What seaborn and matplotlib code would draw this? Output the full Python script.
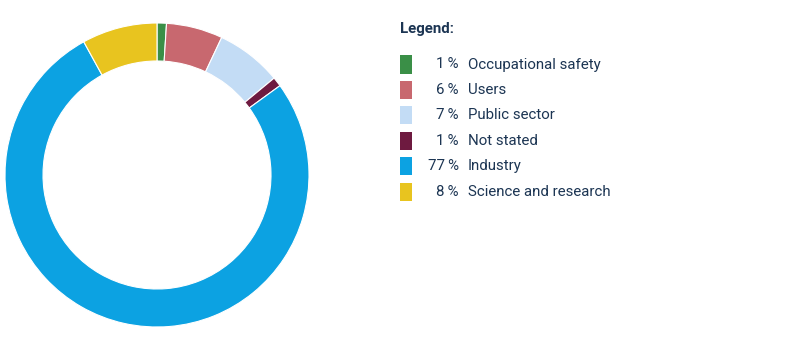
import matplotlib
matplotlib.use("Agg")
import matplotlib.pyplot as plt
import seaborn as sns
from matplotlib.patches import Rectangle

categories = ["Occupational safety", "Users", "Public sector", "Not stated", "Industry", "Science and research"]
values = [1, 6, 7, 1, 77, 8]
colors = ["#3a8f47", "#c8686f", "#c3dcf5", "#6e1a40", "#0ca2e2", "#e8c41f"]
legend_title = "Legend:"

sns.set_theme(style="white")
plt.rcParams['font.family'] = ['Roboto', 'DejaVu Sans']
text_color = "#1c3553"

W, H = 801, 351
fig = plt.figure(figsize=(W / 100, H / 100), dpi=100)

# donut
cx, cy, r = 157, 175, 152
ax = fig.add_axes([(cx - r) / W, (H - cy - r) / H, 2 * r / W, 2 * r / H])
ax.pie(values, colors=sns.color_palette(colors), startangle=90, counterclock=False,
       radius=1.0, wedgeprops=dict(width=0.25, edgecolor="white", linewidth=0.8))
ax.set_xlim(-1, 1)
ax.set_ylim(-1, 1)
ax.set_aspect("equal")
ax.axis("off")

# legend
fig.text(400 / W, 1 - 29 / H, legend_title, fontsize=10.8, fontweight="bold",
         color=text_color, va="center", ha="left")
y0, dy = 64.5, 25.4
for i, (cat, val, col) in enumerate(zip(categories, values, colors)):
    yc = y0 + i * dy
    fig.patches.append(Rectangle((400 / W, 1 - (yc + 9) / H), 12 / W, 18 / H,
                                 transform=fig.transFigure, facecolor=col, edgecolor="none"))
    fig.text(459 / W, 1 - yc / H, f"{val}\u2009%", fontsize=10.8, color=text_color,
             va="center", ha="right")
    fig.text(468 / W, 1 - yc / H, cat, fontsize=10.8, color=text_color,
             va="center", ha="left")

fig.savefig("out.png", dpi=100, facecolor="white")
